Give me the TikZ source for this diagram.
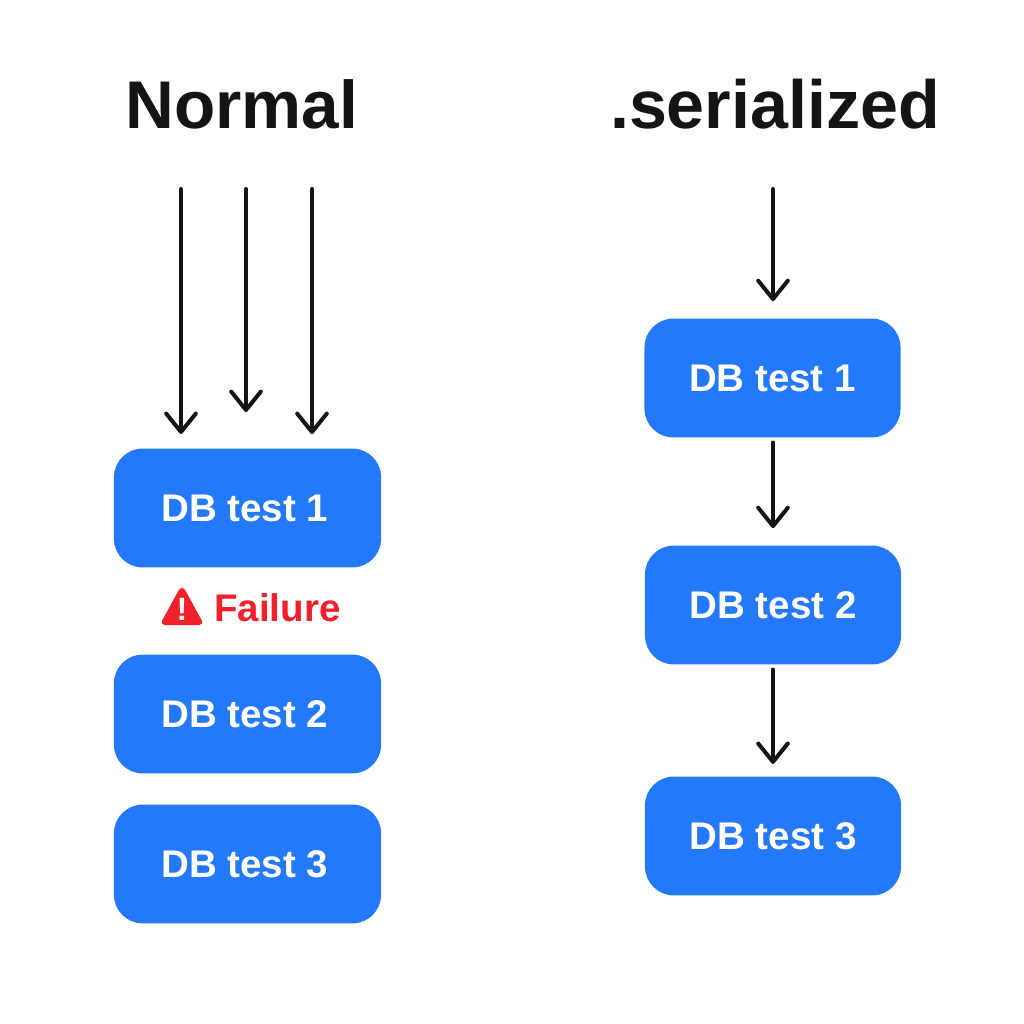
\documentclass[tikz,border=0pt]{standalone}
\usepackage{fontspec}
\setmainfont{Liberation Sans}
\usetikzlibrary{arrows.meta, calc, positioning}
\definecolor{testBlue}{HTML}{2479FB}
\definecolor{failRed}{HTML}{F0212B}
\definecolor{inkBlack}{HTML}{141414}
\tikzset{
    testBox/.style={rectangle, rounded corners=0.72cm, fill=testBlue, text=white, font=\fontsize{27.4}{28}\selectfont\bfseries, inner sep=0pt, minimum width=6.68cm, minimum height=2.97cm},
    testBoxR/.style={testBox, minimum width=6.4cm},
    titleText/.style={text=inkBlack, font=\fontsize{48}{48}\selectfont\bfseries, inner sep=0pt},
    flowEdge/.style={line width=1mm, draw=inkBlack, line cap=round, line join=round, -{Straight Barb[length=4.6mm, width=7.4mm, round]}},
}
\begin{document}
\begin{tikzpicture}[x=0.025cm, y=-0.025cm]
    \useasboundingbox (0,0) rectangle (1024,1024);
    
    \node[titleText] (normalTitle) at (242,104) {Normal};
    \node[titleText, font=\fontsize{48.5}{48}\selectfont\bfseries] (serialTitle) at (775,104) {.serialized};
    
    \node[testBox] (L1) at (247.5,508) {DB test 1\kern4pt};
    \node[testBox] (L2) at (247.5,714) {DB test 2\kern4pt};
    \node[testBox] (L3) at (247.5,864) {DB test 3\kern4pt};
    \node[testBoxR] (R1) at (772.5,378) {DB test 1};
    \node[testBoxR] (R2) at (773,605) {DB test 2};
    \node[testBoxR] (R3) at (773,836) {DB test 3};
    
    \coordinate (a1s) at (181,189);
    \coordinate (a1e) at (181,434);
    \coordinate (a2s) at (246,189);
    \coordinate (a2e) at (246,412);
    \coordinate (a3s) at (312,189);
    \coordinate (a3e) at (312,434);
    \coordinate (r0s) at (773,189);
    
    \draw[flowEdge] (a1s) -- (a1e);
    \draw[flowEdge] (a2s) -- (a2e);
    \draw[flowEdge] (a3s) -- (a3e);
    \draw[flowEdge, shorten >=0.43cm] (r0s) -- (r0s |- R1.north);
    \draw[flowEdge, shorten <=0.12cm, shorten >=0.43cm] (R1.south -| r0s) -- (R2.north -| r0s);
    \draw[flowEdge, shorten <=0.12cm, shorten >=0.31cm] (R2.south -| r0s) -- (R3.north -| r0s);
    
    \draw[fill=failRed, draw=failRed, line width=1.6mm, line join=round] (182,591) -- (199,622) -- (165,622) -- cycle;
    \node[inner sep=0pt, text=white, font=\fontsize{23}{23}\selectfont\bfseries] (failMark) at (182,609) {!};
    \node[inner sep=0pt, text=failRed, font=\fontsize{27.4}{28}\selectfont\bfseries, anchor=west] (failText) at (214,608) {Failure};
\end{tikzpicture}
\end{document}
